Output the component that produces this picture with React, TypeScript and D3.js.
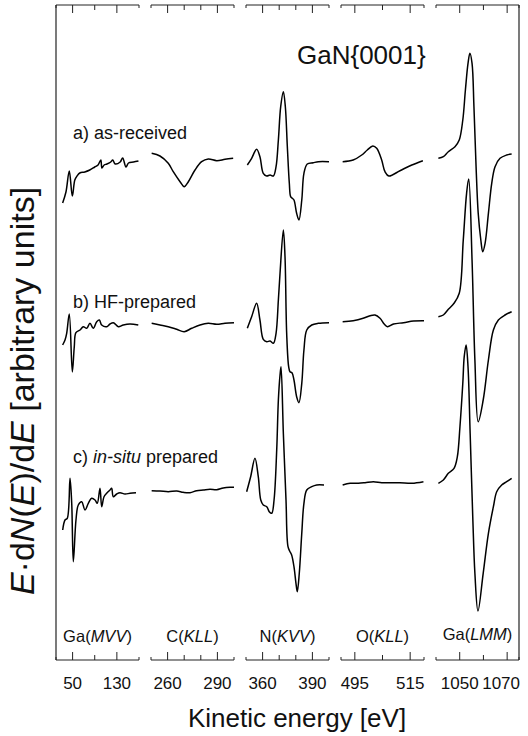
import React from 'react';
import * as d3 from 'd3';

// Auger spectra of GaN{0001} (arbitrary units)
const panelElements = ['Ga', 'C', 'N', 'O', 'Ga'];
const panelTransitions = ['MVV', 'KLL', 'KVV', 'KLL', 'LMM'];
const panelDomains: [number, number][] = [[20, 170], [250, 300], [350, 400], [490, 520], [1040, 1075]];
const panelTicks = [[50, 90, 130], [260, 270, 280, 290], [360, 370, 380, 390], [495, 505, 515], [1050, 1060, 1070]];
const panelTickLabels = [[50, 130], [260, 290], [360, 390], [495, 515], [1050, 1070]];

const spectrumNames = ['as-received', 'HF-prepared', 'prepared'];
const spectrumOffsets = [500, 335, 170];

// a) as-received
const gaMVV_a = [[32, -43], [38, -32], [44, -11], [49.5, -36], [54, -20], [58, -16], [63, -13], [72, -12], [81, -10], [90, -7], [96, -5], [101, 0], [103, -8], [107, -5], [112, -4], [119, -2], [122.5, 0], [127, -4], [136, -2], [140.5, 2], [146.5, -7], [151, -3], [160, -2], [169, -1]];
const cKLL_a = [[250.4, 6.7], [255.4, 4], [260.4, -3.3], [263.4, -11.7], [267.5, -21.7], [270, -26.7], [272.5, -21.7], [276.5, -10], [280.5, -1.7], [284.5, 1], [289.6, -0.7], [294.6, 0.7], [299.5, 1.7]];
const nKVV_a = [[350.8, -5], [353.4, 1.7], [356.4, 10.7], [358.4, 3.3], [360.4, -13.3], [362.5, -16], [364.5, -15], [366.5, -16], [368.1, -6.7], [369.5, 20], [370.9, 53.3], [372.5, 68.3], [373.7, 53.3], [374.9, 13.3], [376.1, -23.3], [376.9, -36.7], [377.9, -38.3], [378.9, -40], [380.5, -53.3], [381.9, -60], [383.6, -40], [384.9, -13.3], [386.9, -4], [390.5, -2.7], [393.6, -1.7], [400, -1.7]];
const oKLL_a = [[490.6, -1.7], [494.4, 0], [497.5, 5], [499.5, 10], [501.5, 14], [502.9, 11.7], [504.7, 0], [505.9, -11.7], [507.3, -16], [511.3, -10.7], [515.6, -5], [519.6, -0.7]];
const gaLMM_a = [[1041, 1.7], [1043.1, 3.3], [1045.2, 8.3], [1048, 13.3], [1049.8, 20], [1051.3, 40], [1052.4, 70], [1053.5, 96.7], [1054.3, 106.7], [1055.2, 96.7], [1056, 53.3], [1056.9, -6.7], [1057.8, -53.3], [1058.9, -80], [1059.7, -91.7], [1060.7, -83.3], [1062.1, -53.3], [1063.5, -23.3], [1064.9, -6.7], [1067, 1.7], [1069.8, 5], [1071.9, 6]];

// b) HF-prepared
const gaMVV_b = [[32, -20], [36.3, -15], [39.3, -8.3], [44, 11], [49.5, -47], [53, -22], [56, -7.7], [63.4, -5], [69.3, -1.7], [75.5, -3.3], [81.4, 1.7], [87.4, -3.3], [93.6, 3.3], [98.3, 5], [102.6, 0], [111.6, -1.7], [117.6, 1], [123.6, 2.3], [132.6, -1.7], [141.6, 0], [153.7, 1], [168.7, 0]];
const cKLL_b = [[250.4, 1.7], [255.4, 0], [260.4, -1.7], [265.5, -4.3], [270, -6.7], [274.5, -3.3], [279.5, 0], [284.5, 1.7], [289.6, 0.7], [294.6, 1.7], [300, 2.3]];
const nKVV_b = [[350.8, -3.3], [353.4, 8.3], [356.4, 21.7], [358.4, 5], [360.4, -14.3], [362.5, -16.7], [364.5, -16], [366.5, -18.3], [368.1, -8.3], [369.5, 25], [370.5, 51.7], [372.5, 95], [373.5, 68.3], [374.5, -8.3], [375.7, -41.7], [376.5, -46.7], [377.7, -47.7], [378.9, -55], [380.5, -71.7], [381.9, -77.7], [383.6, -58.3], [384.9, -25], [386.6, -5], [389.6, 0], [393.6, 1.7], [400, 2.3]];
const oKLL_b = [[490.6, 3.3], [494.4, 4.3], [498, 6.7], [500.5, 9.3], [502.3, 10], [504.1, 6.7], [505.6, 1], [506.8, -1.7], [509, 1], [512.6, 2.3], [516.2, 4], [520, 4.3]];
const gaLMM_b = [[1041, 8.3], [1043.1, 10], [1045.2, 15.7], [1047.6, 21.7], [1049.8, 31.7], [1051.5, 85], [1052.9, 131.7], [1053.8, 146], [1055.2, 65], [1056.4, -35], [1057.8, -96.7], [1059.9, -75], [1062.1, -35], [1064.2, -5], [1066.3, 5], [1069.1, 10], [1071.9, 13.3]];

// c) in-situ prepared
const gaMVV_c = [[32.1, -40], [36.3, -30], [40.4, -28.3], [45.3, 11.7], [48.4, -13.3], [51.3, -71.7], [56.1, -30], [60.3, -15], [66.4, -11.7], [72.4, -20], [78.4, -13.3], [84.5, -8.3], [90.5, -10], [94.6, -13.3], [99.5, 1.7], [102.6, -16.7], [106.8, -6.7], [111.6, -3.3], [117.6, 0], [120.6, 1.7], [123.5, -6.7], [129.7, -4], [135.7, -2.7], [144.7, -4], [153.7, -3.3], [164.6, -2.7]];
const cKLL_c = [[250.4, -0.7], [255.4, -1], [260.4, -1.7], [265.5, -1], [269.4, -2.3], [273.5, -2.7], [277.5, -0.7], [281.5, 0], [285.5, 0.7], [289.6, 0.3], [293.5, 2], [297.6, 2.7], [300, 2.7]];
const nKVV_c = [[350.4, -1.7], [352.8, 13.3], [355.4, 31.7], [357.4, 13.3], [358.9, -10], [360.4, -15], [362.5, -16.7], [364, -21.7], [365.5, -23.3], [366.9, -10], [368.5, 40], [369.5, 90], [370.5, 115], [371.1, 123.3], [372.5, 56.7], [374.1, -10], [375.3, -56.7], [376.5, -61.7], [377.5, -65], [378.9, -76.7], [380.1, -93.3], [380.9, -101.7], [382.1, -83.3], [383.6, -43.3], [384.9, -13.3], [386.6, 0], [389.6, 3.3], [392.6, 5], [397, 5]];
const oKLL_c = [[490.6, 5], [493.3, 6.7], [496.3, 6.7], [498.7, 7.3], [501.7, 8.3], [504.7, 7.3], [507.8, 7.3], [511.3, 7.3], [515.6, 6.7], [519.8, 8.3]];
const gaLMM_c = [[1041, 6.7], [1043.1, 10], [1045.2, 16.7], [1047.6, 21.7], [1049, 33.3], [1050.1, 63.3], [1051.3, 106.7], [1051.9, 133.3], [1052.7, 145], [1053.5, 123.3], [1054.4, 56.7], [1055.5, -26.7], [1056.4, -83.3], [1057.7, -121], [1059.9, -83.3], [1062.1, -43.3], [1064.2, -16.7], [1065.6, -1.7], [1067.7, 5], [1069.8, 8.3], [1071.9, 11.7]];

const spectra = [
  [gaMVV_a, cKLL_a, nKVV_a, oKLL_a, gaLMM_a],
  [gaMVV_b, cKLL_b, nKVV_b, oKLL_b, gaLMM_b],
  [gaMVV_c, cKLL_c, nKVV_c, oKLL_c, gaLMM_c],
];

const FONT = '"Liberation Sans", Arial, sans-serif';

export default function App() {
  const width = 528;
  const height = 736;
  const left = 56;
  const top = 5;
  const bottom = 660;
  const panelW = 83;
  const gap = 12;

  const xScales = panelDomains.map((dom, i) => {
    const x0 = left + i * (panelW + gap);
    return d3.scaleLinear().domain(dom).range([x0, x0 + panelW]);
  });
  const right = left + 5 * panelW + 4 * gap;

  const yScale = d3.scaleLinear().domain([0, 655]).range([bottom, top]);

  const labelBaselines = [139, 308, 463];

  return (
    <svg width={width} height={height} style={{ position: 'absolute', left: 0, top: 0, background: '#fff' }}
      fontFamily={FONT}>
      {/* frame: side lines and broken top/bottom axes */}
      <line x1={left} x2={left} y1={top} y2={bottom} stroke="#222" strokeWidth={1.2} />
      <line x1={right} x2={right} y1={top} y2={bottom} stroke="#222" strokeWidth={1.2} />
      {xScales.map((xs, i) => {
        const [r0, r1] = xs.range();
        return (
          <g key={'ax' + i}>
            <line x1={r0} x2={r1} y1={top} y2={top} stroke="#222" strokeWidth={1} />
            <line x1={r0} x2={r1} y1={bottom} y2={bottom} stroke="#222" strokeWidth={1} />
            <line x1={r0} x2={r0} y1={top} y2={top + 3} stroke="#222" />
            <line x1={r1} x2={r1} y1={top} y2={top + 3} stroke="#222" />
            <line x1={r0} x2={r0} y1={bottom} y2={bottom - 3} stroke="#222" />
            <line x1={r1} x2={r1} y1={bottom} y2={bottom - 3} stroke="#222" />
            {panelTicks[i].map((t) => {
              const long = panelTickLabels[i].includes(t);
              const len = long ? 8 : 5;
              return (
                <g key={t}>
                  <line x1={xs(t)} x2={xs(t)} y1={top} y2={top + len} stroke="#222" />
                  <line x1={xs(t)} x2={xs(t)} y1={bottom} y2={bottom - len} stroke="#222" />
                </g>
              );
            })}
            {panelTickLabels[i].map((t, j) => {
              const isLast = i === 4 && j === 1;
              return (
                <text key={'l' + t} x={isLast ? right + 1 : xs(t)} y={689} fontSize={17}
                  textAnchor={isLast ? 'end' : 'middle'} fill="#111">{t}</text>
              );
            })}
            <text x={(r0 + r1) / 2} y={i === 4 ? 640 : 642} fontSize={16.5} textAnchor="middle" fill="#111">
              {panelElements[i]}(<tspan fontStyle="italic">{panelTransitions[i]}</tspan>)
            </text>
          </g>
        );
      })}

      {/* spectra */}
      {spectra.map((row, s) =>
        row.map((pts, i) => {
          const line = d3.line<number[]>()
            .x((d) => xScales[i](d[0]))
            .y((d) => yScale(spectrumOffsets[s] + d[1]))
            .curve(d3.curveCatmullRom.alpha(0.5));
          return <path key={s + '-' + i} d={line(pts) || ''} fill="none" stroke="#000" strokeWidth={1.5}
            strokeLinejoin="round" />;
        })
      )}

      {/* spectrum labels */}
      <text x={73} y={labelBaselines[0]} fontSize={18} fill="#111">a) {spectrumNames[0]}</text>
      <text x={73} y={labelBaselines[1]} fontSize={18} fill="#111">b) {spectrumNames[1]}</text>
      <text x={73} y={labelBaselines[2]} fontSize={18} fill="#111">
        c) <tspan fontStyle="italic">in-situ</tspan> {spectrumNames[2]}
      </text>

      <text x={297} y={64} fontSize={26} fill="#111">GaN{'{'}0001{'}'}</text>

      <text x={297} y={727} fontSize={26} textAnchor="middle" fill="#111">Kinetic energy [eV]</text>

      <text transform="translate(34,391) rotate(-90)" fontSize={34} textAnchor="middle" fill="#111">
        <tspan fontStyle="italic">E</tspan>·d<tspan fontStyle="italic">N</tspan>(<tspan fontStyle="italic">E</tspan>)/d<tspan fontStyle="italic">E</tspan> [arbitrary units]
      </text>
    </svg>
  );
}
